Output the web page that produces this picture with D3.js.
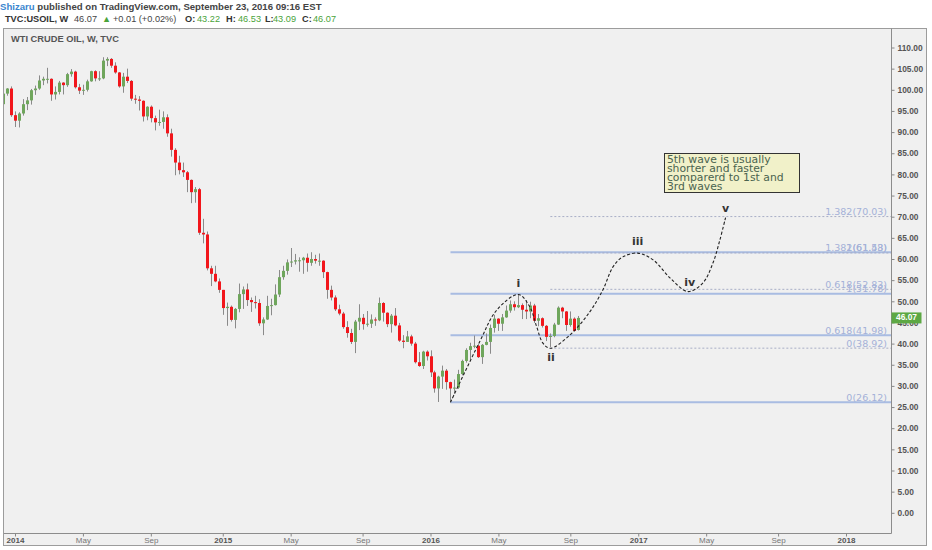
<!DOCTYPE html>
<html>
<head>
<meta charset="utf-8">
<script src="https://d3js.org/d3.v7.min.js"></script>
<style>
  body { margin: 0; background: #fff; }
  svg { display: block; }
</style>
</head>
<body>
<svg id="chart" width="932" height="550"></svg>
<script>
// weekly bars TVC:USOIL, first bar = week of 2013-12-16
var firstBar = "2013-12-16";
var lastBar = "2016-09-19";

var open = [96.6,99.1,100.3,94.0,92.7,94.4,96.6,97.5,99.9,100.3,102.2,102.6,102.6,98.9,99.5,101.7,101.1,103.7,104.3,100.6,
  99.8,100.0,102.0,104.4,102.7,102.7,106.9,107.3,105.7,104.1,100.8,103.1,102.1,97.9,97.7,97.4,93.7,96.0,93.3,92.3,
  92.4,93.5,89.7,85.8,82.8,81.0,80.5,78.7,75.8,76.5,66.2,65.8,57.8,56.5,54.7,52.7,48.4,48.7,45.6,48.2,
  51.7,52.8,50.3,49.8,49.6,44.8,45.7,48.9,49.1,51.6,55.7,57.2,59.2,59.4,59.7,59.7,60.3,59.1,60.0,59.6,
  59.6,56.9,52.7,50.9,48.1,47.1,43.9,42.5,40.4,45.2,46.1,44.6,44.7,45.7,45.5,49.6,47.3,44.6,46.6,44.3,
  40.7,40.4,41.7,40.0,35.6,34.7,38.1,37.0,33.2,29.4,32.2,33.6,30.9,29.4,29.6,32.8,35.9,38.5,39.4,39.5,
  36.8,39.7,40.4,43.7,45.9,44.7,46.2,47.8,49.3,48.6,49.1,48.0,47.6,49.0,45.4,46.0,44.2,41.6,41.8,44.5,
  48.5,47.6,44.4,45.9,43.22];
var high = [99.4,100.4,100.8,94.9,94.7,97.8,98.3,100.2,101.0,103.4,103.1,105.2,102.7,100.8,102.1,101.8,104.0,104.9,104.5,101.4,
  101.2,102.4,104.5,104.6,104.4,107.7,107.7,107.5,106.5,104.2,104.0,105.0,102.3,98.8,98.5,97.5,96.1,96.3,93.9,95.3,
  94.9,94.2,90.8,86.2,84.4,82.8,80.8,78.8,77.0,76.8,69.5,66.5,58.4,58.4,55.4,52.7,49.7,49.0,48.4,54.2,
  53.5,54.2,50.9,51.3,50.5,46.2,51.3,50.6,54.0,57.4,58.4,59.9,62.6,61.2,60.4,60.5,61.3,61.6,61.0,61.3,
  59.7,57.0,53.7,51.4,49.2,47.5,45.3,43.5,45.6,49.3,47.0,47.7,46.9,46.2,50.9,49.8,47.4,47.0,48.4,44.9,
  42.0,43.0,42.1,40.4,38.0,38.3,38.4,38.4,33.6,32.4,34.8,34.0,31.0,31.5,33.8,36.2,38.9,40.2,41.9,39.9,
  39.9,42.4,44.5,46.8,46.0,47.0,49.0,50.2,50.0,51.7,49.5,50.3,49.9,49.4,47.0,46.2,44.4,42.4,44.9,48.8,
  48.7,47.7,47.6,46.2,46.53];
var low = [96.3,98.6,93.6,91.2,91.1,93.9,95.2,96.5,98.8,100.0,101.1,101.5,97.4,97.7,98.9,98.9,100.7,103.1,100.3,99.0,
  98.8,99.6,101.9,102.0,102.1,102.5,105.6,105.2,103.8,100.5,99.3,101.6,97.4,96.7,95.1,92.5,92.8,92.3,90.4,91.5,
  90.8,88.9,84.2,79.8,80.0,79.4,75.8,73.2,73.3,65.7,63.7,57.3,53.6,54.5,52.0,46.8,44.2,45.2,43.6,47.4,
  48.2,48.9,47.5,48.3,44.2,42.0,45.6,46.7,49.0,51.0,55.1,56.3,58.1,58.7,57.0,56.5,57.0,58.4,58.9,58.4,
  55.5,50.6,50.2,47.7,46.7,43.5,41.4,39.9,37.75,43.2,43.3,44.0,43.7,44.2,45.3,45.2,43.9,42.6,44.1,40.4,
  38.9,40.4,39.5,35.3,34.5,34.0,36.0,32.1,28.4,26.2,29.3,29.1,26.1,28.2,29.3,32.5,35.5,36.3,38.9,36.6,
  35.2,39.6,37.6,42.6,43.0,43.0,46.1,47.3,47.8,48.4,45.8,45.8,46.0,44.9,44.1,43.8,40.6,39.2,41.5,44.4,
  46.0,43.0,44.0,42.9,43.09];
var close = [99.1,100.3,94.0,92.7,94.4,96.6,97.5,99.9,100.3,102.2,102.6,102.6,98.9,99.5,101.7,101.1,103.7,104.3,100.6,99.8,
  100.0,102.0,104.4,102.7,102.7,106.9,107.3,105.7,104.1,100.8,103.1,102.1,97.9,97.7,97.4,93.7,96.0,93.3,92.3,92.4,
  93.5,89.7,85.8,82.8,81.0,80.5,78.7,75.8,76.5,66.2,65.8,57.8,56.5,54.7,52.7,48.4,48.7,45.6,48.2,51.7,
  52.8,50.3,49.8,49.6,44.8,45.7,48.9,49.1,51.6,55.7,57.2,59.2,59.4,59.7,59.7,60.3,59.1,60.0,59.6,59.6,
  56.9,52.7,50.9,48.1,47.1,43.9,42.5,40.4,45.2,46.1,44.6,44.7,45.7,45.5,49.6,47.3,44.6,46.6,44.3,40.7,
  40.4,41.7,40.0,35.6,34.7,38.1,37.0,33.2,29.4,32.2,33.6,30.9,29.4,29.6,32.8,35.9,38.5,39.4,39.5,36.8,
  39.7,40.4,43.7,45.9,44.7,46.2,47.8,49.3,48.6,49.1,48.0,47.6,49.0,45.4,46.0,44.2,41.6,41.8,44.5,48.5,
  47.6,44.4,45.9,43.0,46.07];

var priceTicks = d3.range(0, 111, 5);
var timeTicks = ["2014-01-06","2014-05-05","2014-09-01","2015-01-05","2015-05-04","2015-09-07",
  "2016-01-04","2016-05-02","2016-09-05","2017-01-02","2017-05-01","2017-09-04","2018-01-01"];
var timeLabels = ["2014","May","Sep","2015","May","Sep","2016","May","Sep","2017","May","Sep","2018"];

// fibonacci drawings
var fibSolidStart = "2016-02-08";
var fibSolidPrices = [26.12, 41.98, 51.78, 61.58];
var fibSolidLabels = ["0(26.12)", "0.618(41.98)", "1(51.78)", "1.382(61.58)"];
var fibDashStart = "2016-08-01";
var fibDashPrices = [38.92, 52.83, 61.43, 70.03];
var fibDashLabels = ["0(38.92)", "0.618(52.83)", "1(61.43)", "1.382(70.03)"];

// elliott wave sketch
var waveDates = ["2016-02-08","2016-03-30","2016-04-29","2016-06-06","2016-06-26","2016-07-08","2016-07-19",
  "2016-08-01","2016-09-04","2016-10-09","2016-11-01","2016-11-19","2016-12-06","2017-01-01","2017-01-28",
  "2017-02-27","2017-03-30","2017-04-25","2017-05-13","2017-05-25","2017-06-04"];
var wavePrices = [26.12,40.4,47.9,51.6,48.7,44.0,40.1,38.9,42.0,47.5,52.7,58.2,60.5,61.4,59.8,55.5,52.3,54.3,59.1,64.5,69.8];
var waveLabels = ["i","ii","iii","iv","v"];
var waveLabelDates = ["2016-06-06","2016-08-02","2017-01-01","2017-04-02","2017-06-04"];
var waveLabelPrices = [54.0, 36.5, 64.1, 54.4, 71.8];

var noteLines = ["5th wave is usually", "shorter and faster", "comparerd to 1st and", "3rd waves"];
var noteDate = "2017-02-16", notePrice = 85.0;

var parse = d3.utcParse("%Y-%m-%d");
var bars = d3.utcMonday.range(parse(firstBar), d3.utcDay.offset(parse(lastBar), 1)).map(function (d, i) {
  return { date: d, o: open[i], h: high[i], l: low[i], c: close[i] };
});

var svg = d3.select("#chart");
var plotL = 4, plotT = 29, plotR = 891.5, plotB = 533.5;

var x = d3.scaleUtc().domain([parse("2014-01-06"), parse("2018-01-01")]).range([15, 846]);
var y = d3.scaleLinear().domain([0, 110]).range([512.8, 47.5]);

// panel
svg.append("rect").attr("x", 3.5).attr("y", 28.5).attr("width", 923).attr("height", 517)
  .attr("fill", "#f0f0f0").attr("stroke", "#9c9c9c");

svg.append("defs").append("clipPath").attr("id", "clip")
  .append("rect").attr("x", plotL).attr("y", plotT).attr("width", plotR - plotL).attr("height", plotB - plotT);

var plot = svg.append("g").attr("clip-path", "url(#clip)");

// fib lines
var fibG = plot.append("g");
fibSolidPrices.forEach(function (p) {
  fibG.append("line").attr("x1", x(parse(fibSolidStart))).attr("x2", plotR)
    .attr("y1", y(p)).attr("y2", y(p)).attr("stroke", "#a9bce2").attr("stroke-width", 2);
});
fibDashPrices.forEach(function (p) {
  fibG.append("line").attr("x1", x(parse(fibDashStart))).attr("x2", plotR)
    .attr("y1", y(p)).attr("y2", y(p)).attr("stroke", "#a8aec6").attr("stroke-width", 1)
    .attr("stroke-dasharray", "2,2");
});
function fibLabel(p, t) {
  fibG.append("text").attr("x", 887).attr("y", y(p) - 1.5).attr("text-anchor", "end")
    .attr("font-family", "DejaVu Sans").attr("font-size", 9.5).attr("fill", "#a4b1d8").text(t);
}
fibSolidPrices.forEach(function (p, i) { fibLabel(p, fibSolidLabels[i]); });
fibDashPrices.forEach(function (p, i) { fibLabel(p, fibDashLabels[i]); });

// candles
var cg = plot.append("g");
cg.selectAll("line.wick").data(bars).enter().append("line")
  .attr("x1", function (d) { return Math.round(x(d.date)) + 0.5; })
  .attr("x2", function (d) { return Math.round(x(d.date)) + 0.5; })
  .attr("y1", function (d) { return y(d.h); })
  .attr("y2", function (d) { return y(d.l); })
  .attr("stroke", "#8a8a8a").attr("stroke-width", 1);
cg.selectAll("rect.body").data(bars).enter().append("rect")
  .attr("x", function (d) { return Math.round(x(d.date)) - 1; })
  .attr("width", 3)
  .attr("y", function (d) { return y(Math.max(d.o, d.c)); })
  .attr("height", function (d) { return Math.max(1, Math.abs(y(d.o) - y(d.c))); })
  .attr("fill", function (d) { return d.c >= d.o ? "#6fa65c" : "#f2161b"; });

// wave path
var wave = waveDates.map(function (d, i) { return [x(parse(d)), y(wavePrices[i])]; });
plot.append("path").attr("d", d3.line().curve(d3.curveCatmullRom.alpha(0.5))(wave))
  .attr("fill", "none").attr("stroke", "#222").attr("stroke-width", 1.1).attr("stroke-dasharray", "3,2");
waveLabels.forEach(function (t, i) {
  plot.append("text").attr("x", x(parse(waveLabelDates[i]))).attr("y", y(waveLabelPrices[i]))
    .attr("text-anchor", "middle").attr("dominant-baseline", "middle")
    .attr("font-family", "DejaVu Sans").attr("font-weight", "bold").attr("font-size", 11)
    .attr("fill", "#333").text(t);
});

// note box
var nx = x(parse(noteDate)), ny = y(notePrice);
plot.append("rect").attr("x", Math.round(nx) + 0.5).attr("y", Math.round(ny) + 0.5).attr("width", 135).attr("height", 39)
  .attr("fill", "#f1f1c9").attr("stroke", "#333");
noteLines.forEach(function (t, i) {
  plot.append("text").attr("x", nx + 3).attr("y", ny + 9.5 + i * 9.1)
    .attr("font-family", "DejaVu Sans").attr("font-size", 10.8).attr("fill", "#4a634f").text(t);
});

// borders of plot
svg.append("line").attr("x1", plotR).attr("x2", plotR).attr("y1", 28.5).attr("y2", plotB)
  .attr("stroke", "#8c8c8c");
svg.append("line").attr("x1", 4).attr("x2", plotR).attr("y1", plotB).attr("y2", plotB)
  .attr("stroke", "#8c8c8c");

// price axis
var ya = svg.append("g").attr("transform", "translate(" + plotR + ",0)")
  .call(d3.axisRight(y).tickValues(priceTicks).tickSize(3).tickPadding(3)
    .tickFormat(function (d) { return d.toFixed(2); }));
ya.select(".domain").remove();
ya.selectAll("line").attr("stroke", "#888");
ya.selectAll("text").attr("font-family", "Liberation Sans").attr("font-size", 8.4)
  .attr("font-weight", "bold").attr("fill", "#555");

// time axis
var xa = svg.append("g").attr("transform", "translate(0," + plotB + ")")
  .call(d3.axisBottom(x).tickValues(timeTicks.map(parse)).tickSize(3).tickPadding(1)
    .tickFormat(function (d, i) { return timeLabels[i]; }));
xa.select(".domain").remove();
xa.selectAll("line").attr("stroke", "#888");
xa.selectAll("text").attr("font-family", "Liberation Sans").attr("font-size", 8)
  .attr("font-weight", function (d, i) { return /^\d/.test(timeLabels[i]) ? "bold" : "normal"; })
  .attr("fill", function (d, i) { return /^\d/.test(timeLabels[i]) ? "#555" : "#777"; });

// last price marker
var last = bars[bars.length - 1];
svg.append("rect").attr("x", plotR).attr("y", y(last.c) - 5.5).attr("width", 30).attr("height", 11)
  .attr("fill", "#5da844");
svg.append("text").attr("x", plotR + 15).attr("y", y(last.c)).attr("dominant-baseline", "middle")
  .attr("text-anchor", "middle").attr("font-family", "Liberation Sans").attr("font-size", 8.4)
  .attr("font-weight", "bold").attr("fill", "#fff").text(last.c.toFixed(2));

// titles
svg.append("text").attr("x", 11).attr("y", 42).attr("font-family", "Liberation Sans")
  .attr("font-size", 9.3).attr("font-weight", "bold").attr("fill", "#555").text("WTI CRUDE OIL, W, TVC");

var h1 = svg.append("text").attr("x", 0).attr("y", 10).attr("font-family", "Liberation Sans")
  .attr("font-size", 9.6).attr("font-weight", "bold");
h1.append("tspan").attr("fill", "#3a86cf").text("Shizaru");
h1.append("tspan").attr("fill", "#444").text(" published on TradingView.com, September 23, 2016 09:16 EST");

var h2 = svg.append("text").attr("y", 22).attr("font-family", "Liberation Sans").attr("font-size", 9.2);
var seg = [
  ["TVC:USOIL, W", 5, "#333", "bold"], ["46.07", 74, "#444", "normal"], ["\u25B2", 102, "#4aa33a", "normal"],
  ["+0.01 (+0.02%)", 113, "#444", "normal"], ["O:", 185, "#333", "bold"], ["43.22", 197, "#4aa33a", "normal"],
  ["H:", 226, "#333", "bold"], ["46.53", 238, "#4aa33a", "normal"], ["L:", 265, "#333", "bold"],
  ["43.09", 273, "#4aa33a", "normal"], ["C:", 302, "#333", "bold"], ["46.07", 313, "#4aa33a", "normal"]
];
seg.forEach(function (s) {
  h2.append("tspan").attr("x", s[1]).attr("fill", s[2]).attr("font-weight", s[3]).text(s[0]);
});
</script>
</body>
</html>
